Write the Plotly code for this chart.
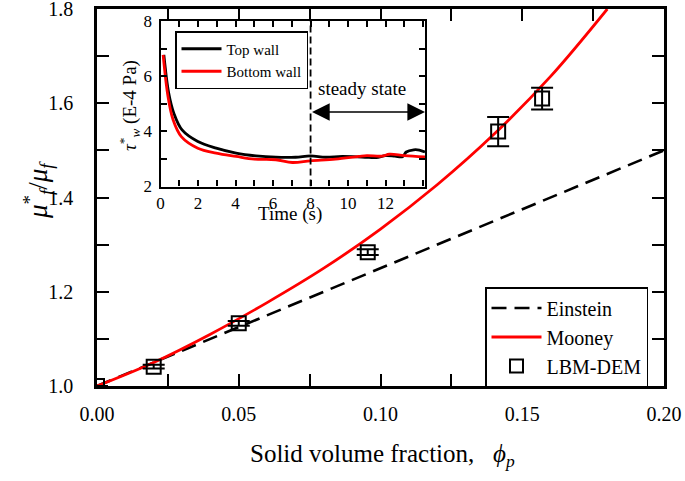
import plotly.graph_objects as go

W, H = 685, 481
FONT = "Liberation Serif, Times New Roman, Tinos, DejaVu Serif, serif"

# ---------------- main data ----------------
einstein_phi = [0.0, 0.20]
einstein_mu = [1.0, 1.50]

mooney_phi = [0.0, 0.02, 0.04, 0.06, 0.08, 0.10, 0.12, 0.14, 0.16, 0.18]
mooney_mu = [1.0, 1.05, 1.11, 1.177, 1.25, 1.333, 1.427, 1.534, 1.657, 1.80]

lbm_phi = [0.0, 0.02, 0.05, 0.0955, 0.1415, 0.157]
lbm_mu = [1.0, 1.041, 1.133, 1.284, 1.540, 1.610]
lbm_err = [0.0, 0.004, 0.005, 0.006, 0.031, 0.023]

# ---------------- inset data ----------------
top_t = [0.18, 0.44, 0.71, 1.15, 1.99, 2.97, 4.03, 5.09, 6.15, 7.2, 8.0, 8.8, 9.7,
         10.9, 11.5, 12.0, 12.5, 12.9, 13.1, 13.5, 13.8, 14.1]
top_tau = [6.77, 5.38, 4.66, 4.05, 3.63, 3.39, 3.21, 3.11, 3.06, 3.06, 3.11, 3.06, 3.09,
           3.06, 3.05, 3.12, 3.10, 3.08, 3.25, 3.33, 3.32, 3.25]
bot_t = [0.14, 0.40, 0.67, 1.11, 1.99, 2.97, 4.03, 5.0, 6.15, 7.03, 8.0, 9.33, 10.57,
         11.0, 11.8, 12.2, 13.0, 14.1]
bot_tau = [6.77, 5.26, 4.42, 3.81, 3.39, 3.21, 3.09, 2.99, 2.97, 2.87, 2.93, 2.99, 3.09,
           3.12, 3.10, 3.17, 3.12, 3.07]
steady_start = 8.0
steady_end = 14.1
arrow_level = 4.7
steady_label = "steady state"

main_xticks = [0.0, 0.05, 0.10, 0.15, 0.20]
main_yticks = [1.0, 1.2, 1.4, 1.6, 1.8]
inset_xticks = [0, 2, 4, 6, 8, 10, 12]
inset_yticks = [2, 4, 6, 8]


def px(x):
    return x / W


def py(y):
    return 1 - y / H


fig = go.Figure()

fig.add_trace(go.Scatter(x=einstein_phi, y=einstein_mu, mode="lines", name="Einstein",
                         line=dict(color="black", width=2.6, dash="15px,8px"),
                         legend="legend"))
fig.add_trace(go.Scatter(x=mooney_phi, y=mooney_mu, mode="lines", name="Mooney",
                         line=dict(color="#ff0000", width=2.8, shape="spline"),
                         legend="legend"))
fig.add_trace(go.Scatter(x=lbm_phi, y=lbm_mu, mode="markers", name="LBM-DEM",
                         marker=dict(symbol="square-open", size=14, color="black",
                                     line=dict(width=2, color="black")),
                         error_y=dict(type="data", array=lbm_err, color="black",
                                      thickness=2, width=11),
                         showlegend=False, cliponaxis=True))
fig.add_trace(go.Scatter(x=[None], y=[None], mode="markers", name="LBM-DEM",
                         marker=dict(symbol="square-open", size=13, color="black",
                                     line=dict(width=2, color="black")),
                         legend="legend"))

fig.add_trace(go.Scatter(x=top_t, y=top_tau, mode="lines", name="Top wall",
                         line=dict(color="black", width=2.8, shape="spline"),
                         xaxis="x2", yaxis="y2", legend="legend2"))
fig.add_trace(go.Scatter(x=bot_t, y=bot_tau, mode="lines", name="Bottom wall",
                         line=dict(color="#ff0000", width=2.8, shape="spline"),
                         xaxis="x2", yaxis="y2", legend="legend2"))

axis_common = dict(showline=True, linecolor="black", mirror="ticks", ticks="inside",
                   tickcolor="black", showgrid=False, zeroline=False, automargin=False,
                   ticklabeloverflow="allow")

fig.update_layout(
    template="none",
    width=W, height=H,
    margin=dict(l=0, r=0, t=0, b=0, autoexpand=False),
    paper_bgcolor="white", plot_bgcolor="white",
    font=dict(family=FONT, color="black"),
    xaxis=dict(domain=[px(97), px(664)], range=[0, 0.20], tickvals=main_xticks,
               tickformat=".2f", linewidth=2.5, ticklen=12, tickwidth=2,
               tickfont=dict(size=20, family=FONT), ticklabelstandoff=8,
               minor=dict(dtick=0.025, ticks="inside", ticklen=12, tickwidth=2,
                          tickcolor="black", showgrid=False),
               anchor="y", **axis_common),
    yaxis=dict(domain=[py(386), py(9)], range=[1.0, 1.8], tickvals=main_yticks,
               tickformat=".1f", linewidth=2.5, ticklen=12, tickwidth=2,
               tickfont=dict(size=20, family=FONT), ticklabelstandoff=17,
               minor=dict(dtick=0.1, ticks="inside", ticklen=12, tickwidth=2,
                          tickcolor="black", showgrid=False),
               anchor="x", **axis_common),
    xaxis2=dict(domain=[px(160.5), px(425)], range=[0, 14.1], tickvals=inset_xticks,
                linewidth=2.2, ticklen=6, tickwidth=1.8,
                tickfont=dict(size=17, family=FONT), ticklabelstandoff=0,
                minor=dict(dtick=1, ticks="inside", ticklen=6, tickwidth=1.8,
                           tickcolor="black", showgrid=False),
                anchor="y2", **axis_common),
    yaxis2=dict(domain=[py(186.5), py(21)], range=[2, 8], tickvals=inset_yticks,
                linewidth=2.2, ticklen=6, tickwidth=1.8,
                tickfont=dict(size=17, family=FONT), ticklabelstandoff=3,
                minor=dict(dtick=1, ticks="inside", ticklen=6, tickwidth=1.8,
                           tickcolor="black", showgrid=False),
                anchor="x2", **axis_common),
    legend=dict(x=px(485), y=py(287), xanchor="left", yanchor="top",
                bgcolor="white", bordercolor="black", borderwidth=1.5,
                font=dict(size=20, family=FONT), itemwidth=50,
                tracegroupgap=0, traceorder="normal"),
    legend2=dict(x=px(175), y=py(31), xanchor="left", yanchor="top",
                 bgcolor="white", bordercolor="black", borderwidth=1.5,
                 font=dict(size=15, family=FONT), itemwidth=40,
                 tracegroupgap=0, traceorder="normal"),
    showlegend=True,
)

# steady state marker line
fig.add_shape(type="line", xref="x2", yref="y2", x0=steady_start, x1=steady_start,
              y0=2, y1=8, line=dict(color="black", width=1.8, dash="7px,4px"))
# double arrow
fig.add_annotation(xref="x2", yref="y2", axref="x2", ayref="y2",
                   x=steady_end, y=arrow_level, ax=steady_start, ay=arrow_level,
                   text="", showarrow=True, arrowhead=2, startarrowhead=2,
                   arrowside="end+start", arrowsize=2.2, startarrowsize=2.2,
                   arrowwidth=1.6, arrowcolor="black")
fig.add_annotation(xref="x2", yref="y2", x=10.75, y=5.55, text=steady_label,
                   showarrow=False, xanchor="center", yanchor="middle",
                   font=dict(size=19, family=FONT))

# axis titles as annotations
fig.add_annotation(xref="paper", yref="paper", x=px(248), y=py(455), xanchor="left",
                   yanchor="middle", showarrow=False,
                   text="Solid volume fraction,\u00a0\u00a0\u00a0<i>ϕ</i><sub><i>p</i></sub>",
                   font=dict(size=25, family=FONT))
fig.add_annotation(xref="paper", yref="paper", x=px(38), y=py(190), textangle=-90,
                   xanchor="center", yanchor="middle", showarrow=False,
                   text="<i>μ</i><sup>*</sup><sub><i>f</i></sub>/<i>μ</i><sub><i>f</i></sub>",
                   font=dict(size=27, family=FONT))
fig.add_annotation(xref="paper", yref="paper", x=px(290), y=py(214), showarrow=False,
                   xanchor="center", yanchor="middle",
                   text="Time (s)", font=dict(size=19, family=FONT))
fig.add_annotation(xref="paper", yref="paper", x=px(129), y=py(106), textangle=-90,
                   xanchor="center", yanchor="middle", showarrow=False,
                   text="<i>τ</i><sup>*</sup><sub><i>w</i></sub>\u00a0(E-4 Pa)",
                   font=dict(size=19, family=FONT))

fig.write_html("out.html", config={"displayModeBar": False},
               post_script="document.body.style.margin='0px';")
